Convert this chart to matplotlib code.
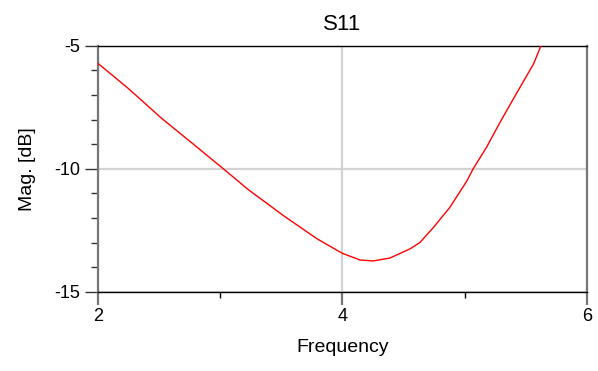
import matplotlib
matplotlib.use("Agg")
import matplotlib.pyplot as plt
from matplotlib.ticker import MultipleLocator, FixedLocator

plt.rcParams['font.family'] = ['Liberation Sans', 'DejaVu Sans']

freq = [2.0, 2.246, 2.52, 2.79, 3.025, 3.23, 3.516, 3.79, 4.0, 4.145, 4.25,
        4.39, 4.553, 4.635, 4.745, 4.88, 5.02, 5.07, 5.18, 5.29, 5.43, 5.565, 5.625]
s11 = [-5.72, -6.73, -7.95, -9.04, -10.0, -10.85, -11.90, -12.84, -13.44, -13.71, -13.75,
       -13.63, -13.26, -13.0, -12.39, -11.57, -10.49, -10.01, -9.13, -8.12, -6.90, -5.74, -5.01]
xticks = [2, 4, 6]
yticks = [-15, -10, -5]

fig = plt.figure(figsize=(5.98, 3.71), dpi=100)
ax = fig.add_axes([0.1639, 0.2137, 0.9811 - 0.1639, 0.8768 - 0.2137])

ax.plot(freq, s11, color='#ff0000', lw=1.0, zorder=3)

ax.set_xlim(2, 6)
ax.set_ylim(-15, -5)
ax.set_xticks(xticks)
ax.set_yticks(yticks)
ax.set_xticklabels([str(t) for t in xticks])
ax.set_yticklabels([str(t) for t in yticks])
ax.xaxis.set_minor_locator(FixedLocator([3, 5]))
ax.yaxis.set_minor_locator(FixedLocator([-14, -13, -12, -11, -9, -8, -7, -6]))

ax.grid(True, which='major', color='#d3d3d3', lw=1.6, zorder=0)
ax.set_axisbelow(True)

for s in ['left', 'right']:
    ax.spines[s].set_color('#777777')
    ax.spines[s].set_linewidth(1.6)
for s in ['top', 'bottom']:
    ax.spines[s].set_color('#000000')
    ax.spines[s].set_linewidth(1.0)

ax.tick_params(axis='x', which='major', direction='out', length=9, width=1.6,
               color='#777777', labelsize=13, pad=3)
ax.tick_params(axis='x', which='minor', direction='out', length=4, width=1.0,
               color='#000000')
ax.tick_params(axis='y', which='major', direction='out', length=9.5, width=1.0,
               color='#333333', labelsize=13, pad=3.5)
ax.tick_params(axis='y', which='minor', direction='out', length=5, width=1.0,
               color='#333333')

ax.set_title('S11', fontsize=16, pad=11)
ax.set_xlabel('Frequency', fontsize=14, labelpad=10)
ax.set_ylabel('Mag. [dB]', fontsize=14, labelpad=13)

fig.savefig('out.png', dpi=100)
